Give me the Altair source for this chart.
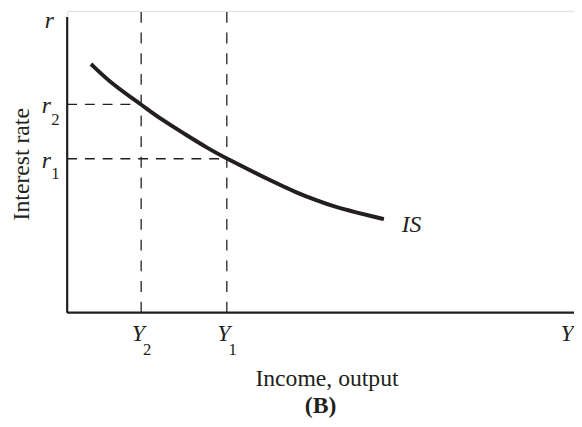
import altair as alt
import pandas as pd

# IS curve (income, interest rate), arbitrary units 0..100
income = [4.7, 8.8, 14.6, 18.5, 23.2, 27.6, 31.5, 41.3, 45.1, 49.0, 52.9, 56.8, 60.7, 62.5]
rate = [82.4, 75.8, 69.0, 64.1, 59.2, 54.6, 51.0, 42.8, 39.9, 37.3, 35.0, 33.3, 31.7, 31.0]

# marked income levels Y2, Y1 and interest-rate levels r2, r1
y_subs = ["2", "1"]
y_values = [14.6, 31.5]
r_subs = ["2", "1"]
r_values = [69.0, 51.0]

x_max = 100
y_max = 100
y_axis_top = 98
curve_label = "IS"
x_title = "Income, output"
y_title = "Interest rate"
panel_label = "(B)"

FONT = "Liberation Serif"
INK = "#231f20"
FS = 24
SUB = 17

xs = alt.Scale(domain=[0, x_max], nice=False, zero=False)
ys = alt.Scale(domain=[0, y_max], nice=False, zero=False)
x_axis = alt.Axis(title=x_title, labels=False, ticks=False, domain=False, grid=False,
                  titleFont=FONT, titleFontSize=FS, titleFontWeight="normal",
                  titleColor=INK, titleBaseline="alphabetic", titleX=263, titleY=74)
y_axis = alt.Axis(title=y_title, labels=False, ticks=False, domain=False, grid=False,
                  titleFont=FONT, titleFontSize=FS, titleFontWeight="normal",
                  titleColor=INK, titleAngle=-90, titleBaseline="middle",
                  titleAlign="center", titleX=-46, titleY=155)


def X(field):
    return alt.X(field, type="quantitative", scale=xs, axis=x_axis)


def Y(field):
    return alt.Y(field, type="quantitative", scale=ys, axis=y_axis)


curve_df = pd.DataFrame({"x": income, "y": rate})
ylev = pd.DataFrame({"x": y_values, "sub": y_subs, "y0": [0] * len(y_values),
                     "y1": [y_max] * len(y_values), "name": ["Y"] * len(y_values),
                     "yl": [0] * len(y_values)})
rlev = pd.DataFrame({"y": r_values, "sub": r_subs, "x0": [0] * len(r_values),
                     "x1": y_values, "name": ["r"] * len(r_values),
                     "xl": [0] * len(r_values)})
axes_x = pd.DataFrame({"x": [0], "x2": [x_max], "y": [0]})
axes_y = pd.DataFrame({"x": [0], "y": [0], "y2": [y_axis_top]})
corner = pd.DataFrame({"x": [0, x_max], "y": [y_axis_top, 0], "t": ["r", "Y"]})
is_lab = pd.DataFrame({"x": [income[-1]], "y": [rate[-1]], "t": [curve_label]})

vdash = alt.Chart(ylev).mark_rule(color=INK, strokeWidth=1.3, strokeDash=[11, 10]).encode(
    x=X("x"), y=Y("y0"), y2="y1")
hdash = alt.Chart(rlev).mark_rule(color=INK, strokeWidth=1.3, strokeDash=[10, 8]).encode(
    x=X("x0"), x2="x1", y=Y("y"))
xaxis_line = alt.Chart(axes_x).mark_rule(color=INK, strokeWidth=2.2).encode(
    x=X("x"), x2="x2", y=Y("y"))
yaxis_line = alt.Chart(axes_y).mark_rule(color=INK, strokeWidth=2.2).encode(
    x=X("x"), y=Y("y"), y2="y2")
curve = alt.Chart(curve_df).mark_line(color=INK, strokeWidth=4, interpolate="basis",
                                      strokeCap="butt").encode(
    x=X("x"), y=Y("y"))

txt = dict(font=FONT, color=INK, fontStyle="italic", baseline="alphabetic", align="center")

r_main = alt.Chart(rlev).mark_text(fontSize=FS, dx=-21, dy=9, **txt).encode(
    x=X("xl"), y=Y("y"), text="name")
r_sub = alt.Chart(rlev).mark_text(fontSize=SUB, dx=-12, dy=21, font=FONT, color=INK,
                                  baseline="alphabetic", align="center").encode(
    x=X("xl"), y=Y("y"), text="sub")
y_main = alt.Chart(ylev).mark_text(fontSize=FS, dx=-3, dy=29, **txt).encode(
    x=X("x"), y=Y("yl"), text="name")
y_sub = alt.Chart(ylev).mark_text(fontSize=SUB, dx=6, dy=43, font=FONT, color=INK,
                                  baseline="alphabetic", align="center").encode(
    x=X("x"), y=Y("yl"), text="sub")
r_top = alt.Chart(corner.iloc[[0]]).mark_text(fontSize=FS, dx=-18, dy=11, **txt).encode(
    x=X("x"), y=Y("y"), text="t")
y_right = alt.Chart(corner.iloc[[1]]).mark_text(fontSize=FS, dx=-7, dy=29, **txt).encode(
    x=X("x"), y=Y("y"), text="t")
is_text = alt.Chart(is_lab).mark_text(fontSize=FS, dx=18, dy=13, font=FONT, color=INK,
                                      fontStyle="italic", baseline="alphabetic",
                                      align="left").encode(
    x=X("x"), y=Y("y"), text="t")

chart = alt.layer(
    vdash, hdash, xaxis_line, yaxis_line, curve,
    r_main, r_sub, y_main, y_sub, r_top, y_right, is_text
).properties(
    width=514, height=306,
    title=alt.TitleParams(panel_label, orient="bottom", anchor="middle", font=FONT,
                          fontSize=FS, fontWeight="bold", color=INK, offset=4),
    autosize=alt.AutoSizeParams(type="none"),
    padding={"left": 60, "top": 0, "right": 0, "bottom": 111},
).configure_view(stroke=None).configure(background="white")

chart.save("out.html", embed_options={"renderer": "svg", "actions": False})
